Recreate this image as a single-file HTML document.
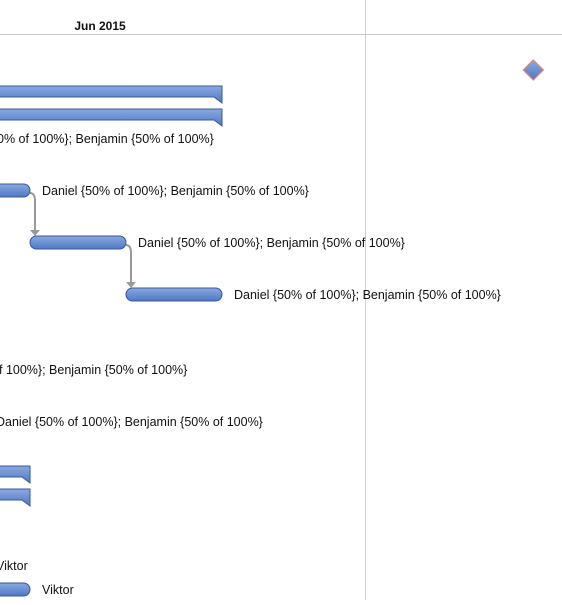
<!DOCTYPE html>
<html><head><meta charset="utf-8"><style>
body{margin:0;background:#fff;width:562px;height:600px;overflow:hidden;font-family:"Liberation Sans",sans-serif}
svg text{font-family:"Liberation Sans",sans-serif;font-size:12.5px;fill:#111}
</style></head><body>
<svg width="562" height="600">
<defs><linearGradient id="g" x1="0" y1="0" x2="0" y2="1"><stop offset="0" stop-color="#8aa9e0"/><stop offset="1" stop-color="#4f78c4"/></linearGradient></defs>
<line x1="0" y1="34.5" x2="562" y2="34.5" stroke="#c8c8c8"/>
<line x1="365.5" y1="0" x2="365.5" y2="600" stroke="#d0d0d0"/>
<text x="100" y="30" text-anchor="middle" font-weight="bold" style="font-size:12px">Jun 2015</text>
<g id="marks"></g>
</svg>
<script>
const kinds=["summary","summary","label","task","task","task","label","label","summary","summary","label","task"];
const starts=[-5,-5,0,-5,0,7,0,0,-5,-5,0,-5];
const ends=[14,14,0,0,7,14,0,0,0,0,0,0];
const rowY=[86,109,139,184,236,288,370,422,466,489,566,583];
const labels=["","","0% of 100%}; Benjamin {50% of 100%}","Daniel {50% of 100%}; Benjamin {50% of 100%}","Daniel {50% of 100%}; Benjamin {50% of 100%}","Daniel {50% of 100%}; Benjamin {50% of 100%}","f 100%}; Benjamin {50% of 100%}","Daniel {50% of 100%}; Benjamin {50% of 100%}","","","Viktor","Viktor"];
const labelX=[-2,0,-3,0,0,0,-1,-4,0,0,-4,0];
const links=[[3,4],[4,5]];
const milestoneDay=36.7, milestoneY=70;
const x0=30, dayW=96/7;
const X=d=>x0+d*dayW;
const g=document.getElementById('marks');
const ns='http://www.w3.org/2000/svg';
function mk(t,a){const e=document.createElementNS(ns,t);for(const k in a)e.setAttribute(k,a[k]);g.appendChild(e);return e;}
links.forEach(([a,b])=>{
 const xe=X(ends[a])+5, y1=rowY[a]+9, y2=rowY[b];
 const p=mk('path',{d:`M${X(ends[a])},${y1} Q${xe},${y1} ${xe},${y1+8} V${y2-4}`,fill:'none',stroke:'#999','stroke-width':2});
 
 
 const h=mk('path',{d:`M${xe-5},${y2-6} L${xe+5},${y2-6} L${xe},${y2} Z`,fill:'#999'});
 
 
});
kinds.forEach((k,i)=>{
 const y=rowY[i];
 if(k==='summary'){
  const xe=X(ends[i]);
  const p=mk('path',{d:`M-20,${y} H${xe} V${y+17} L${xe-8},${y+11} H-20 Z`,fill:'url(#g)',stroke:'#3a5a98','stroke-width':1});
  
  
 } else if(k==='task'){
  const xs=X(starts[i]),xe=X(ends[i]);
  const r=mk('rect',{x:Math.max(xs,-20),y:y,width:xe-Math.max(xs,-20),height:13,rx:6.5,fill:'url(#g)',stroke:'#3a5a98','stroke-width':1});
  
  
 }
 if(labels[i]){
  const tx=k==='task'?X(ends[i])+12:labelX[i];
  const ty=k==='task'?y+11:y+4;
  const t=mk('text',{x:tx,y:ty});
  t.textContent=labels[i];
  
  
 }
});
const mx=X(milestoneDay);
const m=mk('path',{d:`M${mx},${milestoneY-10} L${mx+10},${milestoneY} L${mx},${milestoneY+10} L${mx-10},${milestoneY} Z`,fill:'url(#g)',stroke:'#e08080','stroke-width':1.2});


</script>
</body></html>
